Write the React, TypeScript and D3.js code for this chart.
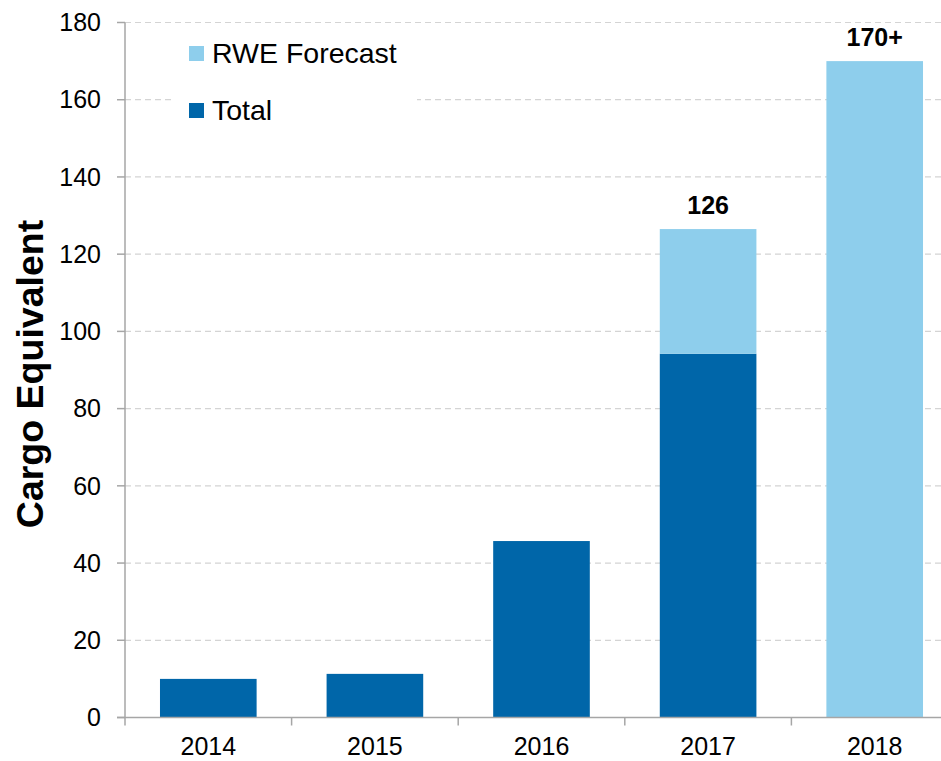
import React from 'react';
import * as d3 from 'd3';

const years = ['2014', '2015', '2016', '2017', '2018'];
const totalValues = [10, 11.3, 45.7, 94.2, 0];
const forecastValues = [0, 0, 0, 32.3, 170];
const topLabels = ['', '', '', '126', '170+'];
const yTicks = [0, 20, 40, 60, 80, 100, 120, 140, 160, 180];

const width = 941;
const height = 761;
const darkBlue = '#0066A9';
const lightBlue = '#8ECEEC';
const axisGrey = '#a6a6a6';
const font = 'Liberation Sans, Arial, sans-serif';

export default function App() {
  const xScale = d3.scaleBand<string>()
    .domain(years)
    .range([125, 958])
    .paddingInner(0.42)
    .paddingOuter(0.21);

  const yScale = d3.scaleLinear()
    .domain([0, 180])
    .range([717.5, 22.5]);

  const boundaries = years.map(y => (xScale(y) as number) - xScale.step() * 0.21);

  return (
    <svg width={width} height={height} style={{ position: 'absolute', left: 0, top: 0, fontFamily: font }}>
      <rect width={width} height={height} fill="white" />

      {/* grid */}
      {yTicks.filter(t => t > 0).map(t => (
        <line key={t} x1={125} x2={width} y1={yScale(t)} y2={yScale(t)}
          stroke="#d4d4d4" strokeWidth={1.2} strokeDasharray="6,4" />
      ))}

      {/* legend box hides the grid */}
      <rect x={172} y={28} width={245} height={118} fill="white" />
      <rect x={189} y={46} width={15} height={15} fill={lightBlue} />
      <text x={212} y={63} fontSize={28.5} fill="#000">RWE Forecast</text>
      <rect x={189} y={103} width={15} height={15} fill={darkBlue} />
      <text x={212} y={120} fontSize={28.5} fill="#000">Total</text>

      {/* bars */}
      {years.map((yr, i) => {
        const x = xScale(yr) as number;
        const w = xScale.bandwidth();
        const t = totalValues[i];
        const f = forecastValues[i];
        return (
          <g key={yr}>
            {t > 0 && (
              <rect x={x} y={yScale(t)} width={w} height={yScale(0) - yScale(t)} fill={darkBlue} />
            )}
            {f > 0 && (
              <rect x={x} y={yScale(t + f)} width={w} height={yScale(t) - yScale(t + f)} fill={lightBlue} />
            )}
            {topLabels[i] && (
              <text x={x + w / 2} y={yScale(t + f) - 15} textAnchor="middle"
                fontSize={25} fontWeight="bold" fill="#000">{topLabels[i]}</text>
            )}
          </g>
        );
      })}

      {/* y axis */}
      <line x1={125} x2={125} y1={yScale(180)} y2={yScale(0)} stroke={axisGrey} strokeWidth={1.5} />
      {yTicks.map(t => (
        <g key={t} transform={`translate(0,${yScale(t)})`}>
          <line x1={117} x2={125} stroke={axisGrey} strokeWidth={1.5} />
          <text x={101} dy="0.35em" textAnchor="end" fontSize={25} fill="#000">{t}</text>
        </g>
      ))}

      {/* x axis */}
      <line x1={117} x2={width} y1={yScale(0)} y2={yScale(0)} stroke={axisGrey} strokeWidth={1.5} />
      {boundaries.map((b, i) => (
        <line key={i} x1={b} x2={b} y1={yScale(0)} y2={yScale(0) + 8} stroke={axisGrey} strokeWidth={1.5} />
      ))}
      {years.map(yr => (
        <text key={yr} x={(xScale(yr) as number) + xScale.bandwidth() / 2} y={755}
          textAnchor="middle" fontSize={25} fill="#000">{yr}</text>
      ))}

      <text transform="translate(43,374) rotate(-90)" textAnchor="middle"
        fontSize={37.5} fontWeight="bold" fill="#000">Cargo Equivalent</text>
    </svg>
  );
}
